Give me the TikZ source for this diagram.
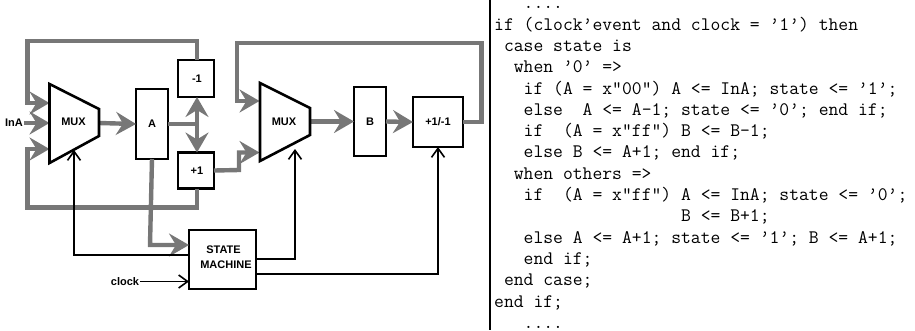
\documentclass[tikz,border=0pt]{standalone}
\usepackage{fontspec}
\newfontfamily\diagfont{Liberation Sans}
\usetikzlibrary{arrows.meta}
\definecolor{busgray}{HTML}{777777}
\tikzset{
  regbox/.style={shape=rectangle, draw=black, line width=2.6pt, inner sep=0pt, outer sep=0pt, font=\diagfont\bfseries\fontsize{11}{14}\selectfont, align=center},
  difflabel/.style={inner sep=0pt, font=\diagfont\bfseries\fontsize{11}{14}\selectfont},
  muxshape/.style={draw=black, line width=2.6pt, line join=miter},
  bus/.style={draw=busgray, line width=4.4pt, line join=miter, -{Stealth[length=20pt,width=23pt,inset=7pt]}},
  busplain/.style={draw=busgray, line width=4.4pt, line join=miter},
  ctrl/.style={draw=black, line width=1.6pt, -{Straight Barb[length=9pt,width=13pt,line width=1.6pt]}}
}
\begin{document}
\begin{tikzpicture}[x=1pt, y=-1pt]
\useasboundingbox (0,0) rectangle (915,330);
% multiplexers
\coordinate (m1a) at (49.5,84); \coordinate (m1b) at (99,109); \coordinate (m1c) at (99,136); \coordinate (m1d) at (49.5,163);
\coordinate (m2a) at (260,83); \coordinate (m2b) at (310,108); \coordinate (m2c) at (310,135); \coordinate (m2d) at (260,161);
\node[difflabel] (ina) at (14,123) {InA};
\node[difflabel] (clock) at (125,281.5) {clock};
% registers and blocks
\node[regbox, minimum width=32pt, minimum height=70pt] (rega) at (152,124) {A};
\node[regbox, minimum width=36pt, minimum height=37pt] (dec) at (196,78.5) {\,-1};
\node[regbox, minimum width=36pt, minimum height=36pt] (inc) at (196,170.5) {\,+1};
\node[regbox, minimum width=32pt, minimum height=69pt] (regb) at (370,121.5) {B};
\node[regbox, minimum width=50pt, minimum height=50pt] (updown) at (438,122) {+1/-1};
\node[regbox, minimum width=67pt, minimum height=59pt] (sm) at (222.5,259.5) {};
\node[difflabel] (smtop) at (223.5,250) {STATE};
\node[difflabel] (smbot) at (226,265) {MACHINE};
% free ends of the connectors
\coordinate (m1in1) at (49.5,103); \coordinate (m1in2) at (49.5,123); \coordinate (m1in3) at (49.5,149);
\coordinate (m2in1) at (259.5,101); \coordinate (m2in2) at (259.5,152.5);
\coordinate (m1out) at (99,123); \coordinate (m2out) at (310,121.5);
\coordinate (m1sel) at (74,150); \coordinate (m2sel) at (295,149);
\coordinate (split) at (197,124);
% data paths
\draw[bus] (dec.north -| split) -- ++(0,-19) -| (27.5,103) -- (m1in1);
\draw[bus] (ina.east) ++(1,0) -- (m1in2);
\draw[bus] (inc.south -| split) -- ++(0,19) -| (27.5,149) -- (m1in3);
\draw[bus] (m1out) -- (rega.west);
\draw[busplain] (rega.east) -- (split);
\draw[bus, {Stealth[length=20pt,width=23pt,inset=7pt]}-{Stealth[length=20pt,width=23pt,inset=7pt]}] (dec.south -| split) -- (inc.north -| split);
\draw[bus] (rega.south) -- (150,245) -- (sm.west |- 0,245);
\draw[bus] (inc.east) -- (239,170) -- (239,152.5) -- (m2in2);
\draw[bus] (updown.east) -- (481.5,122) -- (481.5,43) -- (236.7,43) -- (236.7,101) -- (m2in1);
\draw[bus] (m2out) -- (regb.west);
\draw[bus] (regb.east) -- (updown.west);
% muxes on top of the data paths
\draw[muxshape, fill=white] (m1a) -- (m1b) -- (m1c) -- (m1d) -- cycle;
\draw[muxshape, fill=white] (m2a) -- (m2b) -- (m2c) -- (m2d) -- cycle;
\node[difflabel] (mux1) at (73.5,122) {MUX};
\node[difflabel] (mux2) at (284,122) {MUX};
% control lines
\draw[ctrl] (sm.west |- 0,255) -| (m1sel);
\draw[ctrl] (sm.east |- 0,259) -| (m2sel);
\draw[ctrl] (sm.east |- 0,274) -| (updown.south);
\draw[ctrl] (clock.east) ++(1,0) -- (sm.west |- clock);
% listing
\draw[line width=2pt] (490,0) coordinate (ruletop) -- (490,330) coordinate (rulebot);
\node[anchor=north west, inner sep=0pt, align=left, font=\ttfamily\fontsize{19.1}{21.3}\selectfont] (code) at (494,6.5) {%
\ \ \ ....\\
if (clock’event and clock = ’1’) then\\
\ case state is\\
\ \ when ’0’ =>\\
\ \ \ if (A = x"00") A <= InA; state <= ’1’;\\
\ \ \ else\ \ A <= A-1; state <= ’0’; end if;\\
\ \ \ if\ \ (A = x"ff") B <= B-1;\\
\ \ \ else B <= A+1; end if;\\
\ \ when others =>\\
\ \ \ if\ \ (A = x"ff") A <= InA; state <= ’0’;\\
\ \ \ \ \ \ \ \ \ \ \ \ \ \ \ \ \ \ \ B <= B+1;\\
\ \ \ else A <= A+1; state <= ’1’; B <= A+1;\\
\ \ \ end if;\\
\ end case;\\
end if;\\
\ \ \ ....};
\end{tikzpicture}
\end{document}
